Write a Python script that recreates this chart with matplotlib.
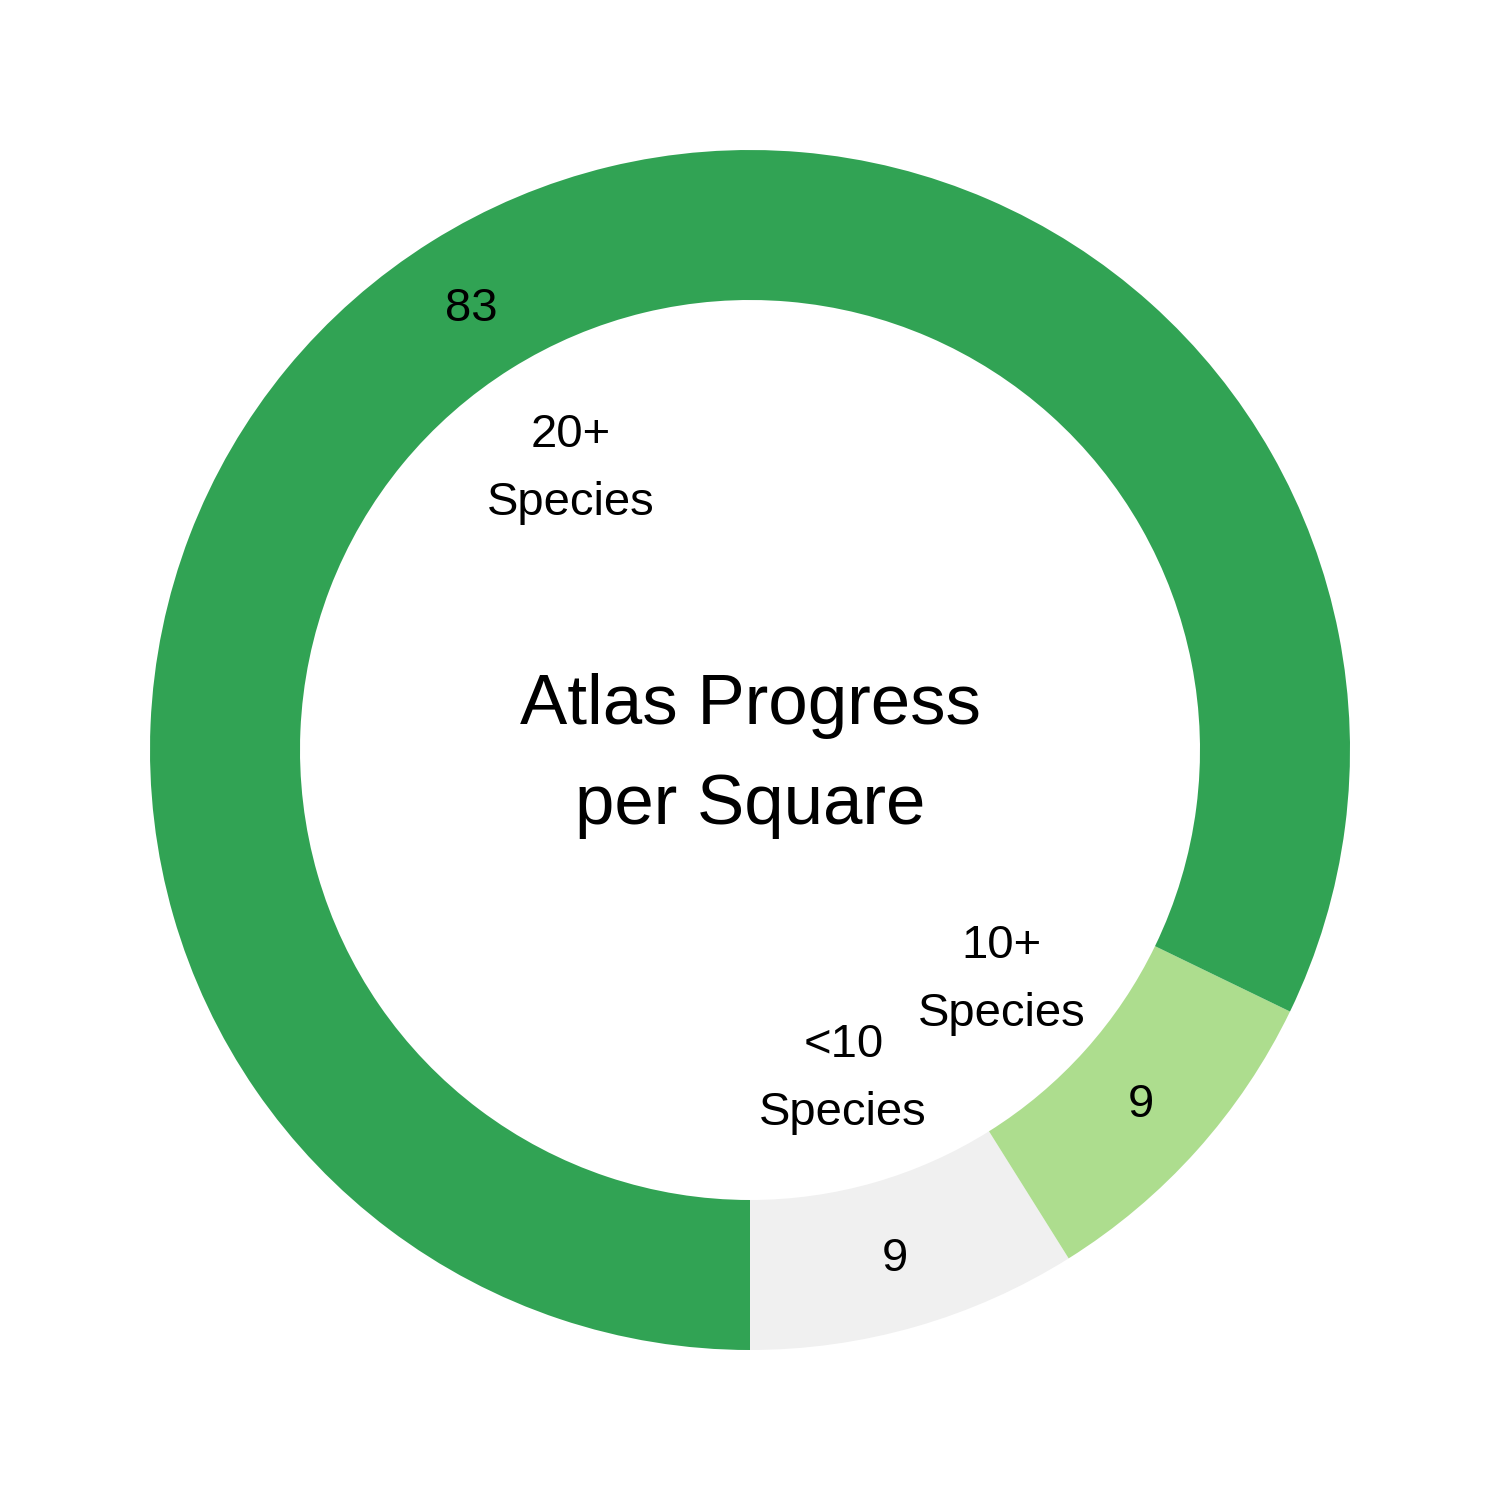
import matplotlib
matplotlib.use("Agg")
import matplotlib.pyplot as plt

# ----- Datos -----
categorias = ['<10\nSpecies', '10+\nSpecies', '20+\nSpecies']
valores = [9, 9, 83]
colores = ['#f0f0f0', '#addd8e', '#31a354']
titulo = 'Atlas Progress\nper Square'

plt.rcParams['font.family'] = ['Liberation Sans', 'DejaVu Sans']

total = sum(valores)

fig = plt.figure(figsize=(15, 15), dpi=100)
ax = fig.add_axes([0.1, 0.1, 0.8, 0.8])

wedges, textos, autotextos = ax.pie(
    valores,
    labels=categorias,
    colors=colores,
    startangle=-90,
    counterclock=True,
    radius=1,
    wedgeprops=dict(width=0.25, edgecolor='none'),
    labeldistance=0.5625,
    pctdistance=0.875,
    autopct=lambda p: f'{round(p * total / 100):d}',
    textprops=dict(fontsize=34),
)

# etiquetas de categoria centradas (un poco mas abajo, como en el original)
for t in textos:
    x, y = t.get_position()
    t.set_position((x, y - 0.008))
    t.set_horizontalalignment('center')
    t.set_verticalalignment('center')
    t.set_linespacing(1.72)

for t in autotextos:
    x, y = t.get_position()
    t.set_position((x, y - 0.007))
    t.set_color('black')

ax.text(0, -0.01, titulo, ha='center', va='center', fontsize=51, linespacing=1.66)

ax.set_xlim(-1, 1)
ax.set_ylim(-1, 1)
ax.set_aspect('equal')
ax.axis('off')

fig.savefig('out.png', dpi=100, facecolor='white')
